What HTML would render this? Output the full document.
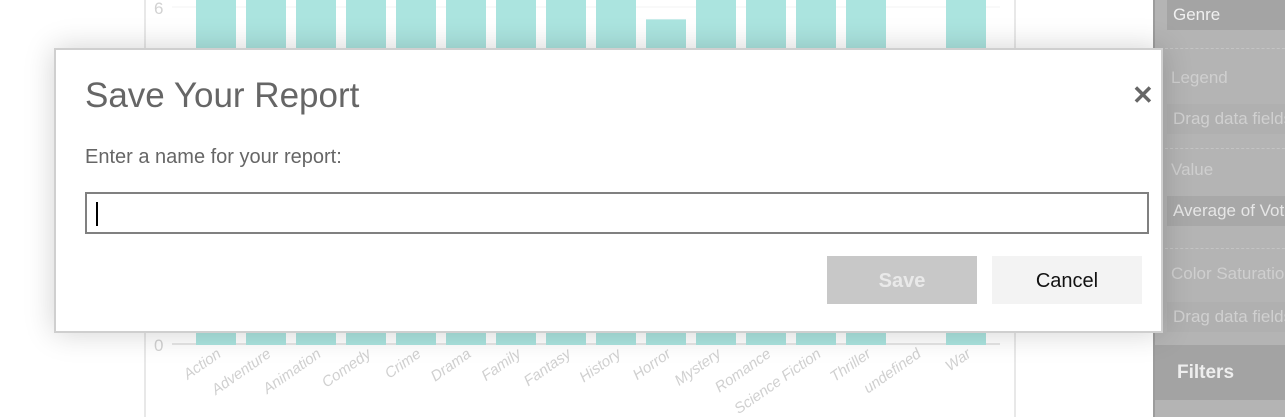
<!DOCTYPE html>
<html><head><meta charset="utf-8"><style>
body{margin:0;width:1285px;height:417px;overflow:hidden;background:#fff;font-family:"Liberation Sans",sans-serif;position:relative}
.abs{position:absolute}
.rp{left:1153px;top:0;width:132px;height:417px;background:#b4b4b4;border-left:2px solid #9c9c9c}
.box{left:12px;width:130px;height:30px;background:#a9a9a9;color:#d0d0d0;font-size:17px;line-height:30px;padding-left:6px;box-sizing:border-box;white-space:nowrap;overflow:hidden}
.lbl{left:12px;color:#cfcfcf;font-size:17px;white-space:nowrap}
.dash{left:10px;width:130px;border-top:1px dashed #c4c4c4}
</style></head><body>
<svg class="abs" style="left:0;top:0" width="1150" height="417">
<g id="chart"></g>
</svg>
<div class="abs rp">
 <div class="abs box" style="top:0;color:#f0f0f0;background:#a4a4a4">Genre</div>
 <div class="abs dash" style="top:48px"></div>
 <div class="abs lbl" style="top:68px;left:16px">Legend</div>
 <div class="abs box" style="top:104px;background:#b0b0b0">Drag data fields</div>
 <div class="abs dash" style="top:148px"></div>
 <div class="abs lbl" style="top:160px;left:16px">Value</div>
 <div class="abs box" style="top:196px;background:#a8a8a8;color:#e6e6e6">Average of Vote</div>
 <div class="abs dash" style="top:248px"></div>
 <div class="abs lbl" style="top:264px;left:16px">Color Saturation</div>
 <div class="abs box" style="top:302px;background:#b0b0b0">Drag data fields</div>
 <div class="abs" style="left:0;top:345px;width:132px;height:55px;background:#a3a3a3;color:#eee;font-weight:bold;font-size:19px;line-height:55px;padding-left:22px;box-sizing:border-box">Filters</div>
</div>
<div class="abs" style="left:54px;top:48px;width:1109px;height:285px;background:#fff;border:2px solid #cfcfcf;box-sizing:border-box;box-shadow:0 0 28px rgba(0,0,0,0.18)">
 <div class="abs" style="left:29px;top:26px;font-size:35px;color:#666">Save Your Report</div>
 <div class="abs" style="left:1076px;top:30px;font-size:26px;font-weight:bold;color:#666">✕</div>
 <div class="abs" style="left:29px;top:96px;font-size:20px;color:#666">Enter a name for your report:</div>
 <div class="abs" style="left:29px;top:142px;width:1064px;height:42px;border:2px solid #808080;box-sizing:border-box"><div class="abs" style="left:9px;top:8px;width:2px;height:24px;background:#000"></div></div>
 <div class="abs" style="left:771px;top:206px;width:150px;height:48px;background:#c8c8c8;color:#e9e9e9;font-size:20px;font-weight:bold;text-align:center;line-height:50px">Save</div>
 <div class="abs" style="left:936px;top:206px;width:150px;height:48px;background:#f3f3f3;color:#111;font-size:20px;text-align:center;line-height:50px">Cancel</div>
</div>
<script>
const categories=["Action","Adventure","Animation","Comedy","Crime","Drama","Family","Fantasy","History","Horror","Mystery","Romance","Science Fiction","Thriller","undefined","War"];
const values=[6.4,6.3,6.6,6.3,6.5,6.7,6.3,6.2,6.8,5.78,6.5,6.5,6.4,6.4,0,6.6];
const yTicks=[0,6];
const NS="http://www.w3.org/2000/svg";
const g=document.getElementById('chart');
const y0=344,y6=7;
function y(v){return y0-(y0-y6)*v/6;}
function x(i){return 216+i*50;}
function mk(t,a){const e=document.createElementNS(NS,t);for(const k in a)e.setAttribute(k,a[k]);g.appendChild(e);return e;}
let e=mk('line',{x1:145,y1:0,x2:145,y2:417,stroke:'#e8e8e8','stroke-width':2});


e=mk('line',{x1:1015,y1:0,x2:1015,y2:417,stroke:'#e8e8e8','stroke-width':2});


yTicks.forEach(t=>{
 const l=mk('line',{x1:172,y1:y(t),x2:1000,y2:y(t),stroke:t===0?'#e6e6e6':'#f3f3f3','stroke-width':t===0?2:1});
 
 
 const tx=mk('text',{x:154,y:y(t)+7,'font-size':17,fill:'#d2d2d2','font-family':'Liberation Sans, sans-serif'});
 tx.textContent=t;
 
 
});
categories.forEach((c,i)=>{
 if(values[i]>0){
  const top=Math.max(y(values[i]),0);
  const r=mk('rect',{x:x(i)-20,y:top,width:40,height:y0+1-top,fill:'#abe4df'});
  
  
 }
 const t=mk('text',{x:x(i)+6,y:356,'font-size':15,fill:'#d0d0d0','text-anchor':'end','font-style':'italic','font-family':'Liberation Sans, sans-serif',transform:`rotate(-35 ${x(i)+6} 356)`});
 t.textContent=c;
 
 
});
</script>
</body></html>
